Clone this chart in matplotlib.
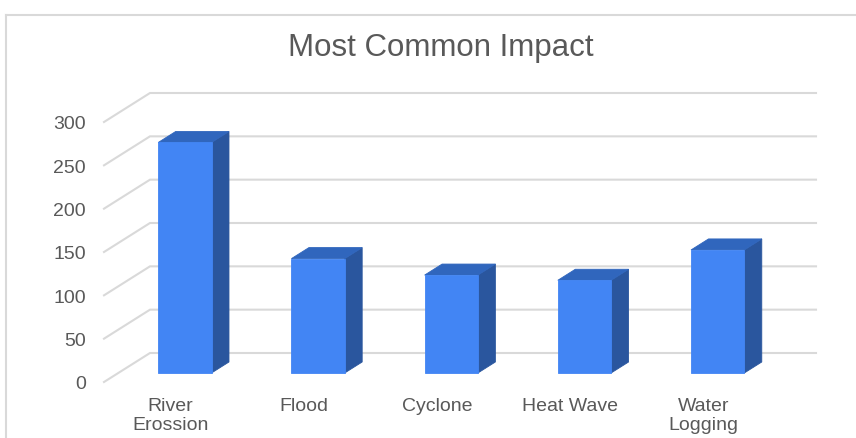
import matplotlib
matplotlib.use("Agg")
import matplotlib.pyplot as plt
from matplotlib.patches import Polygon
from matplotlib.lines import Line2D

# data
categories = ["River\nErossion", "Flood", "Cyclone", "Heat Wave", "Water\nLogging"]
counts = [266, 132, 113, 107, 142]
y_ticks = [0, 50, 100, 150, 200, 250, 300]

# colours for the three visible faces of each column
FRONT = "#4285f4"
SIDE = "#2a569e"
TOP = "#3066bd"
GRID = "#d9d9d9"
TEXT = "#595959"

W, H, DPI = 856, 439, 100
fig = plt.figure(figsize=(W / DPI, H / DPI), dpi=DPI)

# front plane of the 3-D box, in pixels
left_px, right_px, bottom_px, top_px = 104, 770, 383, 123
ax = fig.add_axes([left_px / W, (H - bottom_px) / H,
                   (right_px - left_px) / W, (bottom_px - top_px) / H])
n = len(categories)
ax.set_xlim(0, n)
ax.set_ylim(0, 300)

# oblique depth offset, expressed in data units
DX = 46 / ((right_px - left_px) / n)
DY = 29 / ((bottom_px - top_px) / 300)


def proj(x, y, z):
    return (x + z * DX, y + z * DY)


# back wall gridlines with the slanted left-wall segment
for v in y_ticks:
    p0 = proj(0, v, 0)
    p1 = proj(0, v, 1)
    p2 = proj(n, v, 1)
    ax.plot([p0[0], p1[0], p2[0]], [p0[1], p1[1], p2[1]],
            color=GRID, lw=1.5, clip_on=False, zorder=1,
            solid_joinstyle="miter")

# columns
half_w = 0.2
z0, z1 = 0.31, 0.69
for i, v in enumerate(counts):
    xc = i + 0.5
    xl, xr = xc - half_w, xc + half_w
    front = [proj(xl, 0, z0), proj(xr, 0, z0), proj(xr, v, z0), proj(xl, v, z0)]
    side = [proj(xr, 0, z0), proj(xr, 0, z1), proj(xr, v, z1), proj(xr, v, z0)]
    top = [proj(xl, v, z0), proj(xr, v, z0), proj(xr, v, z1), proj(xl, v, z1)]
    for pts, c in ((side, SIDE), (top, TOP), (front, FRONT)):
        ax.add_patch(Polygon(pts, closed=True, facecolor=c, edgecolor=c,
                             lw=0.6, clip_on=False, zorder=3))

for s in ax.spines.values():
    s.set_visible(False)
ax.set_yticks(y_ticks)
ax.set_yticklabels([str(t) for t in y_ticks])
ax.set_xticks([i + 0.5 for i in range(n)])
ax.set_xticklabels(categories, linespacing=1.12)
ax.tick_params(axis="y", length=0, pad=13, labelsize=14, labelcolor=TEXT)
ax.tick_params(axis="x", length=0, pad=11, labelsize=14, labelcolor=TEXT)
for lab in ax.get_xticklabels() + ax.get_yticklabels():
    lab.set_family("Liberation Sans")
ax.patch.set_visible(False)

fig.text(440.5 / W, 1 - 48 / H, "Most Common Impact", ha="center", va="center",
         fontsize=22.5, color=TEXT, family="Liberation Sans")

# outer chart frame
fig.add_artist(Line2D([6 / W, 6 / W], [0, 1 - 16 / H], transform=fig.transFigure,
                      color=GRID, lw=1.5))
fig.add_artist(Line2D([6 / W, 1], [1 - 16 / H, 1 - 16 / H], transform=fig.transFigure,
                      color=GRID, lw=1.5))

fig.savefig("out.png", dpi=DPI, facecolor="white")
